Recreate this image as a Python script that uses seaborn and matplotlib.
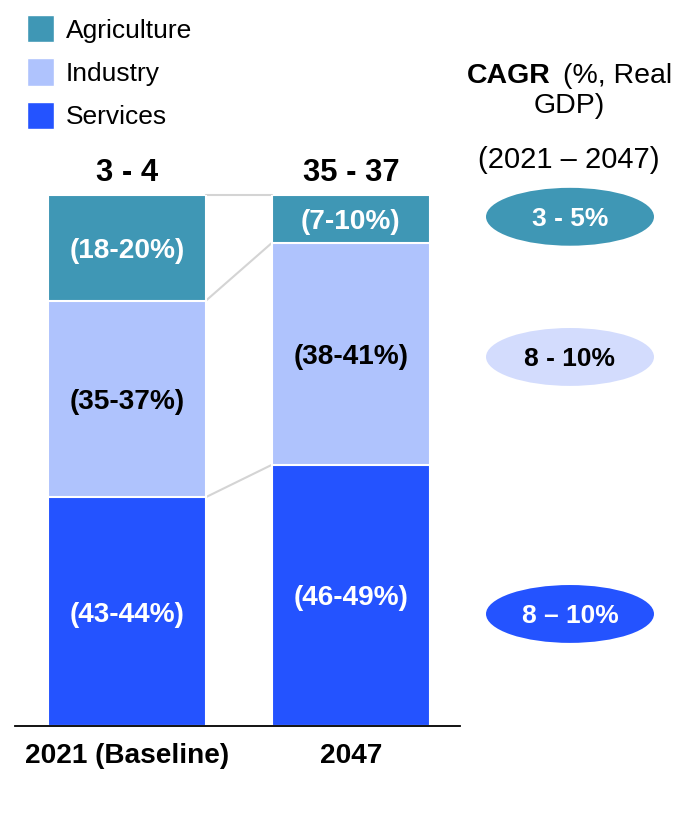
import matplotlib
matplotlib.use("Agg")
import matplotlib.pyplot as plt
from matplotlib.patches import Ellipse, Patch
import pandas as pd
import seaborn as sns

# shares of GDP (%)
categories = ["2021 (Baseline)", "2047"]
agriculture = [19.9, 9.0]
industry = [37.0, 41.8]
services = [43.1, 49.2]

agri_labels = ["(18-20%)", "(7-10%)"]
industry_labels = ["(35-37%)", "(38-41%)"]
services_labels = ["(43-44%)", "(46-49%)"]
totals = ["3 - 4", "35 - 37"]

cagr_labels = ["3 - 5%", "8 - 10%", "8 \u2013 10%"]

agri_color = "#3f97b5"
industry_color = "#afc3fd"
services_color = "#2453ff"
cagr_fill = [agri_color, "#d3dcfd", services_color]
cagr_text = ["white", "black", "white"]

sns.set_theme(style="white")
plt.rcParams["font.family"] = ["Liberation Sans", "DejaVu Sans"]
plt.rcParams["text.color"] = "black"
plt.rcParams["xtick.color"] = "black"

W, H = 675, 831
fig = plt.figure(figsize=(W / 100, H / 100), dpi=100)


def fx(px):
    return px / W


def fy(py):
    return 1 - py / H


ax = fig.add_axes([fx(15), fy(726), fx(460) - fx(15), (726 - 195) / H])

df = pd.DataFrame({"cat": categories, "agri": agriculture,
                   "ind": industry, "serv": services})
df["top"] = df["agri"] + df["ind"] + df["serv"]
df["mid"] = df["ind"] + df["serv"]

bw = 0.705
# layered bars give the stacked look
for col, c in [("top", agri_color), ("mid", industry_color), ("serv", services_color)]:
    sns.barplot(data=df, x="cat", y=col, color=c, saturation=1, width=bw,
                edgecolor="white", linewidth=1.5, ax=ax)

ax.set_xlim(-0.5, 1.487)
ax.set_ylim(0, 100)

# connector lines between the bars
for col in ["top", "mid", "serv"]:
    ax.plot([0 + bw / 2, 1 - bw / 2], [df[col][0], df[col][1]],
            color="#d4d4d4", lw=1.5, clip_on=False, zorder=0)

# segment labels
lab_kw = dict(ha="center", va="center_baseline", fontsize=20.2, fontweight="bold")
for i in range(len(categories)):
    ax.text(i, df["serv"][i] + df["ind"][i] + df["agri"][i] / 2, agri_labels[i],
            color="white", **lab_kw)
    ax.text(i, df["serv"][i] + df["ind"][i] / 2, industry_labels[i],
            color="black", **lab_kw)
    ax.text(i, df["serv"][i] / 2, services_labels[i],
            color="white", **lab_kw)
    ax.annotate(totals[i], (i, df["top"][i]), xytext=(0, 15.5), textcoords="offset points",
                ha="center", va="center", fontsize=22.3, fontweight="bold")

ax.set_xlabel("")
ax.set_ylabel("")
ax.set_yticks([])
ax.set_xticks(range(len(categories)))
ax.set_xticklabels(categories, fontsize=20.2, fontweight="bold")
ax.tick_params(axis="x", length=0, pad=12, labelcolor="black")
for s in ["top", "left", "right"]:
    ax.spines[s].set_visible(False)
ax.spines["bottom"].set_color("black")
ax.spines["bottom"].set_linewidth(1.3)

# legend
handles = [Patch(facecolor=agri_color), Patch(facecolor=industry_color),
           Patch(facecolor=services_color)]
fig.legend(handles, ["Agriculture", "Industry", "Services"],
           loc="upper left", bbox_to_anchor=(fx(27), fy(15)), frameon=False,
           fontsize=19, handlelength=1.02, handleheight=1.22,
           handletextpad=0.45, labelspacing=0.6, borderaxespad=0, borderpad=0)

# CAGR column
fig.text(fx(467), fy(73), "CAGR", ha="left", va="center_baseline",
         fontsize=20.5, fontweight="bold")
fig.text(fx(672), fy(73), "(%, Real", ha="right", va="center_baseline", fontsize=20.5)
fig.text(fx(569), fy(103), "GDP)", ha="center", va="center_baseline", fontsize=20.5)
fig.text(fx(569), fy(157), "(2021 \u2013 2047)", ha="center", va="center_baseline",
         fontsize=21)

cax = fig.add_axes([fx(486), fy(726), fx(654) - fx(486), (726 - 195) / H])
cax.set_xlim(0, 1)
cax.set_ylim(0, 100)
cax.axis("off")
ell_y = [95.9, 69.5, 21.1]
for y, lab, fc, tc in zip(ell_y, cagr_labels, cagr_fill, cagr_text):
    cax.add_patch(Ellipse((0.5, y), 1, 10.9, facecolor=fc, edgecolor="none",
                          clip_on=False))
    cax.text(0.5, y, lab, ha="center", va="center_baseline", color=tc,
             fontsize=19, fontweight="bold")

fig.savefig("out.png", dpi=100)
